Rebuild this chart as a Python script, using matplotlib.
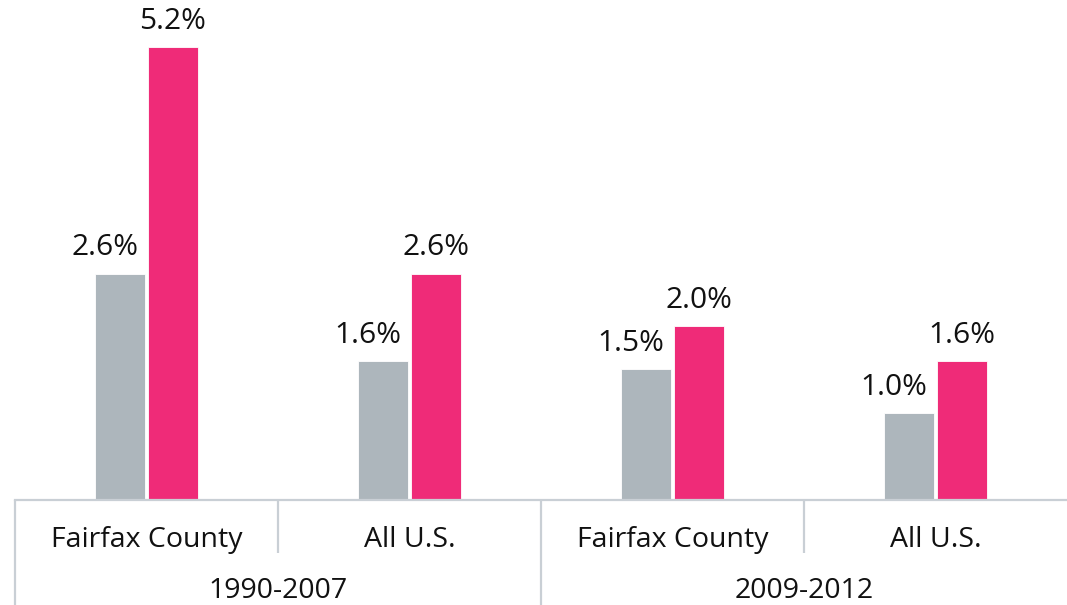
import matplotlib
matplotlib.use("Agg")
import matplotlib.pyplot as plt
from matplotlib.transforms import blended_transform_factory

categories = ["Fairfax County", "All U.S.", "Fairfax County", "All U.S."]
groups = ["1990-2007", "2009-2012"]
series_a = [2.6, 1.6, 1.5, 1.0]   # grey
series_b = [5.2, 2.6, 2.0, 1.6]   # pink
labels_a = ["2.6%", "1.6%", "1.5%", "1.0%"]
labels_b = ["5.2%", "2.6%", "2.0%", "1.6%"]

plt.rcParams['font.family'] = ['Open Sans', 'DejaVu Sans']

W, H = 1067, 605
fig = plt.figure(figsize=(W / 100, H / 100), dpi=100)
ax = fig.add_axes([15 / W, 1 - 500 / H, 1 - 15 / W, 500 / H])

grey = "#ADB6BC"
pink = "#EF2B78"
line_c = "#C9CFD5"

x = list(range(len(categories)))
bw = 0.19
off = 0.1
xa = [i - off for i in x]
xb = [i + off for i in x]
ax.bar(xa, series_a, width=bw, color=grey, edgecolor="white", linewidth=0.6)
ax.bar(xb, series_b, width=bw, color=pink, edgecolor="white", linewidth=0.6)

for xi, v, t in zip(xa, series_a, labels_a):
    ax.annotate(t, (xi - 0.057, v), xytext=(0, 8), textcoords="offset points",
                ha="center", va="bottom", fontsize=21.5, color="#111111")
for xi, v, t in zip(xb, series_b, labels_b):
    ax.annotate(t, (xi, v), xytext=(0, 8), textcoords="offset points",
                ha="center", va="bottom", fontsize=21.5, color="#111111")

ax.set_xlim(-0.5, len(categories) - 0.5)
ax.set_ylim(0, 5.2 * 500 / 453)
for s in ["top", "right", "left"]:
    ax.spines[s].set_visible(False)
ax.spines["bottom"].set_color(line_c)
ax.spines["bottom"].set_linewidth(1.6)
ax.set_xticks([])
ax.set_yticks([])

tr = blended_transform_factory(ax.transData, ax.transAxes)
# separators
for i, xv in enumerate([-0.5, 0.5, 1.5, 2.5]):
    low = -0.21 if i % 2 == 0 else -0.106
    ax.plot([xv, xv], [0, low], transform=tr, color=line_c, lw=1.6,
            clip_on=False, solid_capstyle="butt")

for i, c in enumerate(categories):
    ax.text(i, -0.08, c, transform=tr, ha="center", va="center",
            fontsize=20.5, color="#111111")
for g, gi in enumerate(groups):
    ax.text(2 * g + 0.5, -0.182, gi, transform=tr, ha="center", va="center",
            fontsize=20.5, color="#111111")

fig.savefig("out.png", dpi=100)
